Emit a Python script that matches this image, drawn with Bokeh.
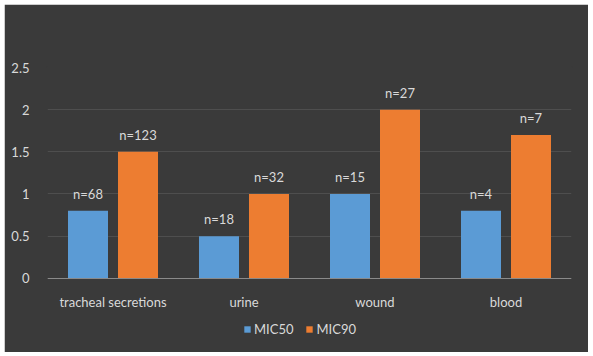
from bokeh.plotting import figure
from bokeh.models import ColumnDataSource, FactorRange, LabelSet, Legend, LegendItem, Range1d, CategoricalAxis
from bokeh.core.properties import value
from bokeh.transform import dodge
from bokeh.embed import file_html
from bokeh.resources import INLINE

categories = ["tracheal secretions", "urine", "wound", "blood"]
mic50 = [0.8, 0.5, 1.0, 0.8]
mic90 = [1.5, 1.0, 2.0, 1.7]
n50 = ["n=68", "n=18", "n=15", "n=4"]
n90 = ["n=123", "n=32", "n=27", "n=7"]
y_ticks = [0, 0.5, 1, 1.5, 2, 2.5]

FONT = "Lato"
BG = "#3a3a3a"
TXT = "#d9d9d9"
BLUE = "#5b9bd5"
ORANGE = "#ed7d31"

src = ColumnDataSource(dict(cat=categories, mic50=mic50, mic90=mic90, n50=n50, n90=n90))

p = figure(width=584, height=348, margin=(4, 5, 4, 4),
           x_range=FactorRange(*categories, range_padding=0),
           y_range=Range1d(-0.88, 2.5),
           output_backend="svg", toolbar_location=None,
           min_border_left=43, min_border_right=17, min_border_top=63, min_border_bottom=0,
           x_axis_location=None)

p.background_fill_color = BG
p.border_fill_color = BG
p.outline_line_color = BG
p.outline_line_width = 3

off = 25 / 131
w = 40 / 131
r1 = p.vbar(x=dodge("cat", -off, range=p.x_range), top="mic50", width=w, source=src,
            fill_color=BLUE, line_color=None)
r2 = p.vbar(x=dodge("cat", off, range=p.x_range), top="mic90", width=w, source=src,
            fill_color=ORANGE, line_color=None)

for col, o in (("n50", -off), ("n90", off)):
    top = "mic50" if col == "n50" else "mic90"
    lab = LabelSet(x=dodge("cat", o, range=p.x_range), y=top, text=col, source=src,
                   text_align="center", text_baseline="bottom", y_offset=9,
                   text_font=value(FONT), text_font_size=value("13px"), text_color=TXT)
    p.add_layout(lab)

xax = CategoricalAxis(fixed_location=0)
p.add_layout(xax, "below")

p.yaxis.ticker = y_ticks
p.yaxis.axis_line_color = None
p.yaxis.major_tick_line_color = None
p.yaxis.minor_tick_line_color = None
p.yaxis.major_label_standoff = 12
p.yaxis.major_label_text_font = FONT
p.yaxis.major_label_text_font_size = "13px"
p.yaxis.major_label_text_color = TXT

xax.axis_line_color = "#8a8a8a"
xax.axis_line_width = 1
xax.major_tick_line_color = None
xax.minor_tick_line_color = None
xax.major_label_standoff = 10
xax.major_label_text_font = FONT
xax.major_label_text_font_size = "13px"
xax.major_label_text_color = TXT

p.xgrid.grid_line_color = None
p.ygrid.ticker = y_ticks
p.ygrid.grid_line_color = "#4e4e4e"
p.ygrid.grid_line_width = 1

legend = Legend(items=[LegendItem(label="MIC50", renderers=[r1]),
                       LegendItem(label="MIC90", renderers=[r2])],
                orientation="horizontal", location=(196, 15),
                background_fill_alpha=0, border_line_color=None,
                label_text_font=FONT, label_text_font_size="13px", label_text_color=TXT,
                glyph_width=8, glyph_height=8, spacing=12, label_standoff=3,
                label_height=16, margin=0, padding=0)
p.add_layout(legend, "center")

open("out.html", "w").write(file_html(p, INLINE))
